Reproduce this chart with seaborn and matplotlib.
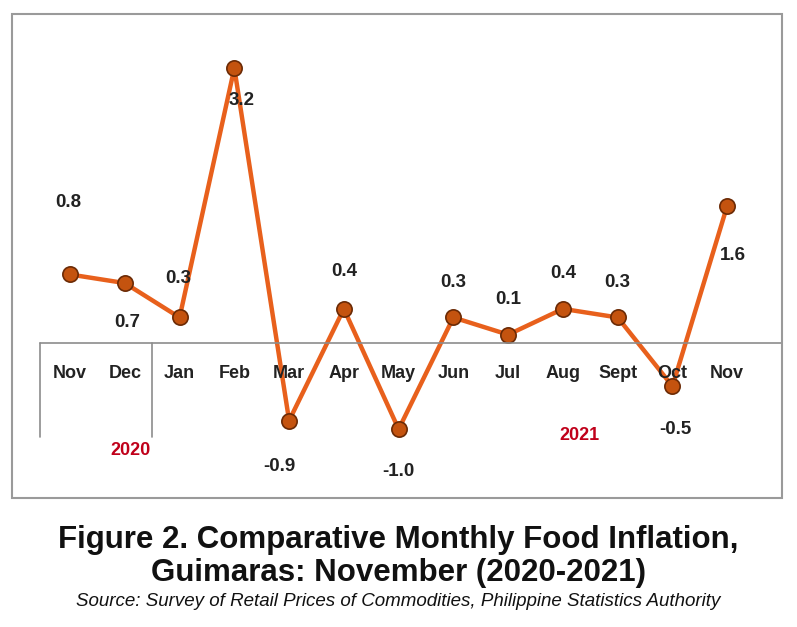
import matplotlib.pyplot as plt
import seaborn as sns
import pandas as pd
from matplotlib.patches import Rectangle

# Datos
meses = ['Nov', 'Dec', 'Jan', 'Feb', 'Mar', 'Apr', 'May', 'Jun', 'Jul', 'Aug', 'Sept', 'Oct', 'Nov']
inflacion = [0.8, 0.7, 0.3, 3.2, -0.9, 0.4, -1.0, 0.3, 0.1, 0.4, 0.3, -0.5, 1.6]
etiquetas = ['0.8', '0.7', '0.3', '3.2', '-0.9', '0.4', '-1.0', '0.3', '0.1', '0.4', '0.3', '-0.5', '1.6']
# desplazamiento vertical de cada etiqueta (pixeles)
desplaz = [72, -39, 39, -32, -46, 37, -42, 35, 35, 35, 35, -43, -50]
desplaz_x = [-2, 2, -1, 7, -10, 0, 0, 0, 0, 0, 0, 3, 6]

sns.set_theme(style="white")
plt.rcParams['font.family'] = ['Liberation Sans', 'DejaVu Sans']

W, H = 797, 627
fig = plt.figure(figsize=(W / 100, H / 100), dpi=100)
fig.patches.append(Rectangle((12 / W, 1 - 498 / H), 770 / W, 484 / H, transform=fig.transFigure,
                             fill=False, edgecolor='#9a9a9a', linewidth=1.5))
ax = fig.add_axes([12 / W, 1 - 498 / H, 770 / W, 484 / H])
ax.patch.set_alpha(0)
for s in ax.spines.values():
    s.set_visible(False)

df = pd.DataFrame({'idx': range(len(meses)), 'val': inflacion})
sns.lineplot(data=df, x='idx', y='val', ax=ax, color='#E8601C', linewidth=3.2,
             marker='o', markersize=11, markerfacecolor='#C4530F', markeredgecolor='#6B2A05',
             markeredgewidth=1.2)
ax.set_xlim(-1.06, 13.0)
ax.set_ylim(-1.80, 3.83)
ax.set_xticks([]); ax.set_yticks([])
ax.set_xlabel(''); ax.set_ylabel('')

ax.axhline(0, xmin=(40 - 12) / 770, xmax=1, color='#8c8c8c', linewidth=1.2)
ax.plot([-0.55, -0.55], [0, -1.09], color='#8c8c8c', linewidth=1.2)
ax.plot([1.5, 1.5], [0, -1.09], color='#8c8c8c', linewidth=1.2)

for i, m in enumerate(meses):
    ax.text(i, -0.35, m, ha='center', va='center', fontsize=13, fontweight='bold', color='#222222')
    ax.annotate(etiquetas[i], (i, inflacion[i]), xytext=(desplaz_x[i] * 0.72, desplaz[i] * 0.72),
                textcoords='offset points', ha='center', va='center',
                fontsize=13.5, fontweight='bold', color='#222222')

ax.text(1.1, -1.25, '2020', ha='center', va='center', fontsize=13, fontweight='bold', color='#C0001A')
ax.text(9.3, -1.07, '2021', ha='center', va='center', fontsize=13, fontweight='bold', color='#C0001A')

fig.text(0.5, 1 - 540 / H, 'Figure 2. Comparative Monthly Food Inflation,', ha='center', va='center',
         fontsize=22.5, fontweight='bold', color='#111111')
fig.text(0.5, 1 - 573 / H, 'Guimaras: November (2020-2021)', ha='center', va='center',
         fontsize=22.5, fontweight='bold', color='#111111')
fig.text(0.5, 1 - 601 / H, 'Source: Survey of Retail Prices of Commodities, Philippine Statistics Authority',
         ha='center', va='center', fontsize=13.5, style='italic', color='#111111')

fig.savefig('out.png', dpi=100)
